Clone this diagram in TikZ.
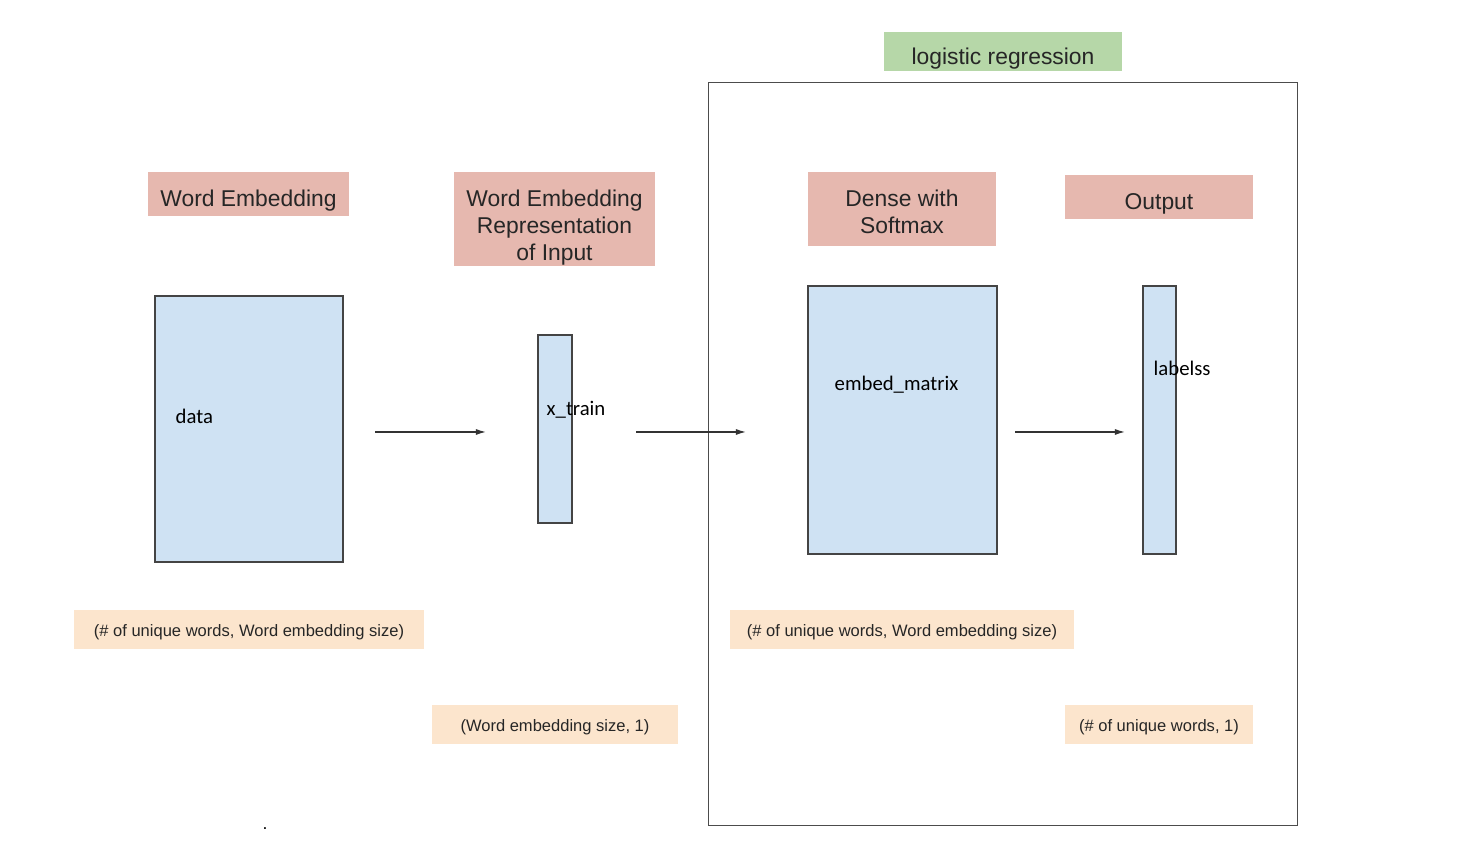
\documentclass[tikz,border=0pt]{standalone}
\usepackage{fontspec}
\setmainfont{Liberation Sans}
\newfontfamily\calibrifont{Carlito}
\usetikzlibrary{positioning}
\usetikzlibrary{arrows.meta}
\definecolor{headColor}{HTML}{E6B8AF}
\definecolor{matrixColor}{HTML}{CFE2F3}
\definecolor{shapeColor}{HTML}{FCE5CD}
\definecolor{groupColor}{HTML}{B6D7A8}
\definecolor{edgeColor}{HTML}{444444}
\tikzset{
  head/.style={fill=headColor, inner sep=0pt, align=center, text=black!85,
    font=\fontsize{6.5}{7.7}\selectfont, text height=8.5pt},
  headtext/.style={inner sep=0pt, align=center, text=black!85,
    font=\fontsize{6.5}{7.7}\selectfont},
  matrixbox/.style={draw=edgeColor, line width=0.45pt, fill=matrixColor, inner sep=0pt},
  shapebox/.style={fill=shapeColor, inner sep=0pt, text=black!85,
    font=\fontsize{4.7}{5.6}\selectfont, minimum height=0.39cm, text height=5.1pt},
  varname/.style={anchor=west, inner sep=0pt, font=\calibrifont\fontsize{5.9}{7}\selectfont},
  flow/.style={draw=black!80, line width=0.35pt, -{Latex[length=0.1cm, width=0.06cm]}}
}

\begin{document}
\begin{tikzpicture}[x=0.01cm, y=-0.01cm]
  \useasboundingbox (0,0) rectangle (1462,868);
  % logistic regression group
  \node[draw=black!70, line width=0.35pt, minimum width=5.88cm, minimum height=7.42cm] (group) at (1003,454) {};
  \node[fill=groupColor, inner sep=0pt, minimum width=2.38cm, minimum height=0.39cm, text height=8.5pt,
    font=\fontsize{6.5}{7.7}\selectfont, text=black!85] (grouphead) at (1003,51.5) {logistic regression};

  % headers
  \node[head, minimum width=2.01cm, minimum height=0.44cm] (embhead) at (248.5,194) {Word Embedding};
  \node[head, minimum width=2.01cm, minimum height=0.94cm] (reprhead) at (554.5,219) {};
  \node[headtext] (reprtext) at (554.5,228) {Word Embedding\\Representation\\of Input};
  \node[head, minimum width=1.88cm, minimum height=0.74cm] (densehead) at (902,209) {};
  \node[headtext] (densetext) at (902,212) {Dense with\\Softmax};
  \node[head, minimum width=1.88cm, minimum height=0.44cm] (outhead) at (1159,197) {Output};

  % matrices
  \node[matrixbox, minimum width=1.88cm, minimum height=2.66cm] (data) at (249,429) {};
  \node[matrixbox, minimum width=0.34cm, minimum height=1.88cm] (xtrain) at (555,429) {};
  \node[matrixbox, minimum width=1.89cm, minimum height=2.68cm] (embed) at (902.5,420) {};
  \node[matrixbox, minimum width=0.33cm, minimum height=2.68cm] (labels) at (1159.5,420) {};
  \node[varname] (datalabel) at (175,416) {data};
  \node[varname] (xtrainlabel) at (546,410) {x\_train};
  \node[varname] (embedlabel) at (834,385) {embed\_matrix};
  \node[varname] (labelslabel) at (1153,368) {labelss};

  % arrows
  \coordinate (a1) at (375,432);
  \coordinate (b1) at (486,432);
  \coordinate (a2) at (636,432);
  \coordinate (b2) at (746,432);
  \coordinate (a3) at (1015,432);
  \coordinate (b3) at (1125,432);
  \draw[flow] (a1) -- (b1);
  \draw[flow] (a2) -- (b2);
  \draw[flow] (a3) -- (b3);

  % shapes
  \node[shapebox, minimum width=3.50cm] (datashape) at (249,629.5) {(\# of unique words, Word embedding size)};
  \node[shapebox, minimum width=2.46cm] (xtrainshape) at (555,724.5) {(Word embedding size, 1)};
  \node[shapebox, minimum width=3.44cm] (embedshape) at (902,629.5) {(\# of unique words, Word embedding size)};
  \node[shapebox, minimum width=1.88cm] (labelsshape) at (1159,724.5) {(\# of unique words, 1)};

  \node[inner sep=0pt, font=\tiny] (dot) at (265,829) {.};
\end{tikzpicture}
\end{document}
